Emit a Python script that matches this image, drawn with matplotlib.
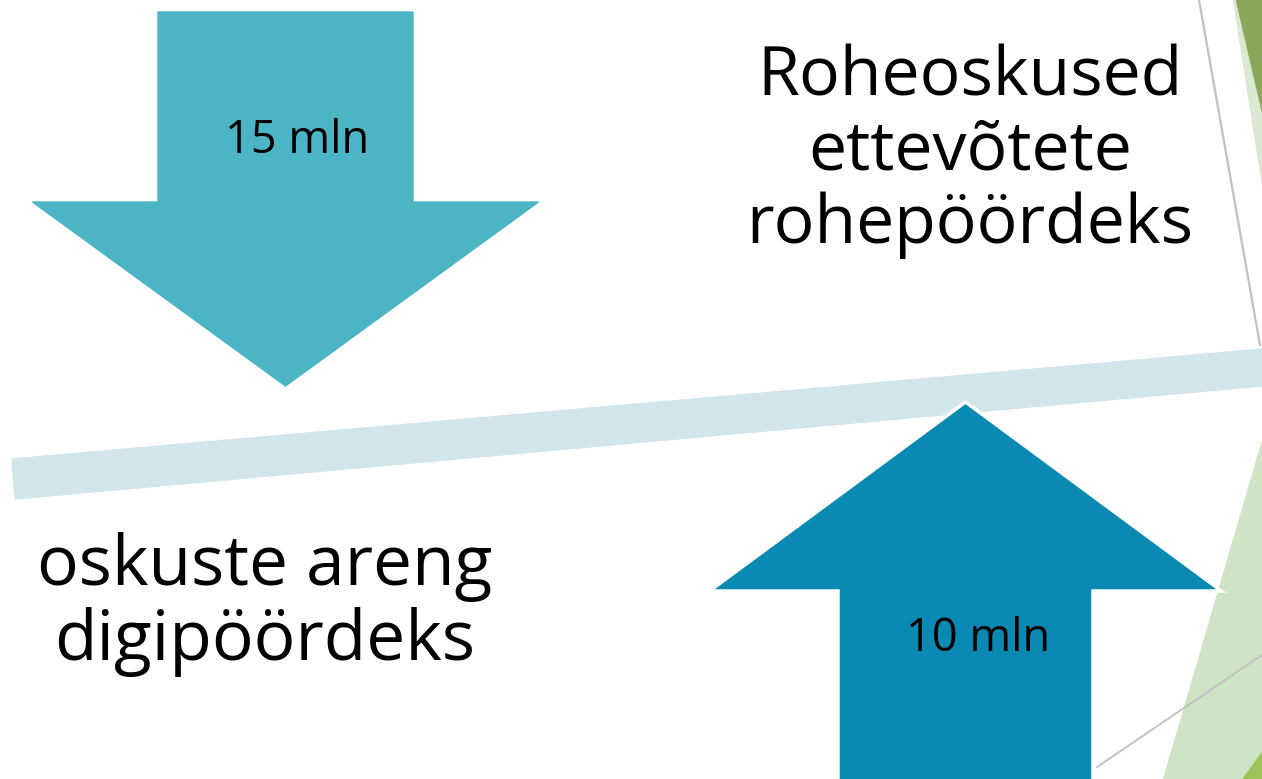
import matplotlib
matplotlib.use("Agg")
import matplotlib.pyplot as plt
from matplotlib.patches import Polygon

# funding amounts shown on the arrows
amounts = ["15 mln", "10 mln"]
# captions next to the arrows
captions_top = ["Roheoskused", "ettevõtete", "rohepöördeks"]
captions_bottom = ["oskuste areng", "digipöördeks"]

# colours
down_color = "#4bb5c6"
up_color = "#0a89b3"
bar_color = "#d1e5ea"
green_dark = "#8aa75a"
green_light = "#dbe9d3"
green_soft = "#cfe3c6"
green_bright = "#9cc35a"
grey_line = "#c2c2c2"

W, H = 1262, 779


def arrow(cx, shaft_w, head_w, tail_y, neck_y, tip_y):
    """Block arrow outline; works for up or down depending on tip_y."""
    s, h = shaft_w / 2, head_w / 2
    return [(cx - s, tail_y), (cx + s, tail_y), (cx + s, neck_y), (cx + h, neck_y),
            (cx, tip_y), (cx - h, neck_y), (cx - s, neck_y)]


fig = plt.figure(figsize=(W / 100, H / 100), dpi=100)
ax = fig.add_axes([0, 0, 1, 1])
ax.set_xlim(0, W)
ax.set_ylim(H, 0)
ax.axis("off")

# green decoration on the right edge
ax.add_patch(Polygon([(1233, 0), (W, 0), (W, 185)], color=green_light, zorder=1))
ax.add_patch(Polygon([(1236, 0), (W, 0), (W, 112)], color=green_dark, zorder=1))
ax.add_patch(Polygon([(W, 440), (W, H), (1163, H)], color=green_soft, zorder=1))
ax.add_patch(Polygon([(1242, H), (W, H), (W, 752)], color=green_bright, zorder=1))
ax.plot([1199, 1260], [0, 345], color=grey_line, lw=1.6, zorder=1)
ax.plot([1097, W], [767, 655], color=grey_line, lw=1.4, zorder=1)

# tilted bar
ax.add_patch(Polygon([(12, 459), (W, 349), (W, 386), (15, 499)], color=bar_color, zorder=2))

# arrows
ax.add_patch(Polygon(arrow(285.5, 255, 506, 12, 202, 386), color=down_color, zorder=3))
ax.add_patch(Polygon(arrow(965.5, 255, 512, 800, 591, 402), facecolor=up_color,
                     edgecolor="white", lw=2.5, zorder=3))

num_font = ["Open Sans", "DejaVu Sans"]
ax.text(297, 141, amounts[0], fontsize=32.5, family=num_font, ha="center", va="center", zorder=4)
ax.text(978, 639, amounts[1], fontsize=32.5, family=num_font, ha="center", va="center", zorder=4)

for i, line in enumerate(captions_top):
    ax.text(970, 95 + 74 * i, line, fontsize=49, family=["Open Sans", "DejaVu Sans"],
            ha="center", va="baseline", zorder=4)

for i, line in enumerate(captions_bottom):
    ax.text(265, 585 + 75 * i, line, fontsize=50, family=num_font,
            ha="center", va="baseline", zorder=4)

fig.savefig("out.png", dpi=100)
